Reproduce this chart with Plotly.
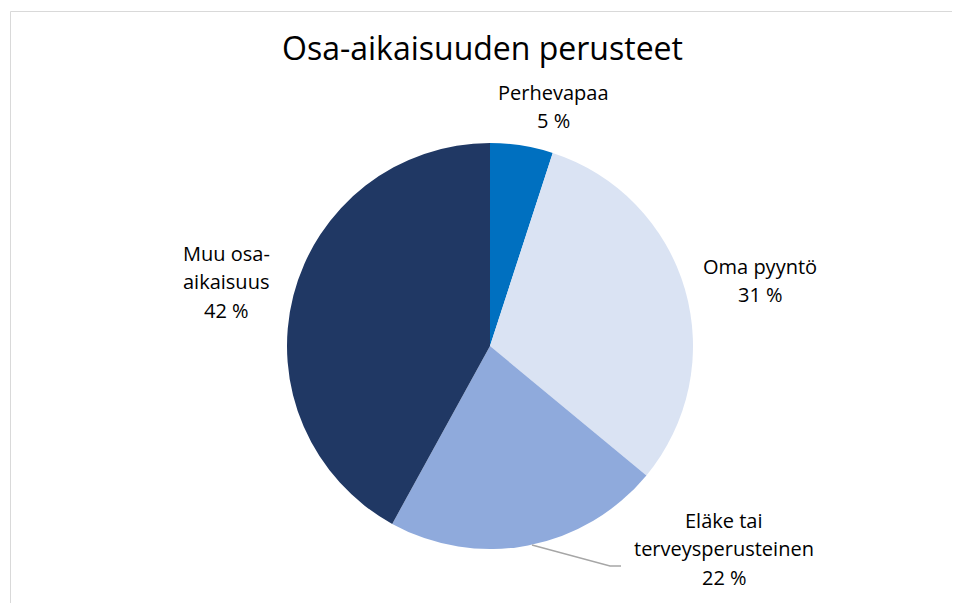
import plotly.graph_objects as go

# Data
title = "Osa-aikaisuuden perusteet"
labels = ["Perhevapaa", "Oma pyyntö", "Eläke tai terveysperusteinen", "Muu osa-aikaisuus"]
label_lines = [["Perhevapaa"], ["Oma pyyntö"], ["Eläke tai", "terveysperusteinen"], ["Muu osa-", "aikaisuus"]]
values = [5, 31, 22, 42]
colors = ["#0070C0", "#DAE3F3", "#8FAADC", "#203864"]

W, H = 960, 603
OFF = 8  # page body margin offset compensation


def fx(x):
    return (x - OFF) / W


def fy(y):
    return 1 - (y - OFF) / H


cx, cy, r = 490, 346, 203
FONT = "'Open Sans', Lato, sans-serif"

fig = go.Figure(go.Pie(
    labels=labels, values=values, sort=False, direction="clockwise", rotation=0,
    marker=dict(colors=colors, line=dict(width=0)),
    textinfo="none", hoverinfo="label+percent", showlegend=False,
    domain=dict(x=[fx(cx - r), fx(cx + r)], y=[fy(cy + r), fy(cy - r)]),
))

# label layout: (centre x, first line centre y) in pixels, line spacing
label_pos = [(553, 92), (760, 266), (724, 520), (226, 253)]
LS = 28.7
annotations = []
for lines, v, (px, py) in zip(label_lines, values, label_pos):
    for i, t in enumerate(lines + [f"{v} %"]):
        annotations.append(dict(x=fx(px), y=fy(py + i * LS), xref="paper", yref="paper", text=t,
                                showarrow=False, xanchor="center", yanchor="middle",
                                font=dict(family=FONT, size=20, color="#000000")))
annotations.append(dict(x=fx(482.5), y=fy(47.5), xref="paper", yref="paper", text=title, showarrow=False,
                        xanchor="center", yanchor="middle",
                        font=dict(family=FONT, size=32, color="#000000")))

shapes = [
    dict(type="line", xref="paper", yref="paper", x0=fx(10.5), x1=fx(10.5), y0=fy(11.5), y1=fy(620),
         line=dict(color="#D9D9D9", width=1)),
    dict(type="line", xref="paper", yref="paper", x0=fx(10.5), x1=fx(980), y0=fy(11.5), y1=fy(11.5),
         line=dict(color="#D9D9D9", width=1)),
    dict(type="path", xref="paper", yref="paper",
         path=f"M {fx(532)} {fy(545)} L {fx(610)} {fy(566)} L {fx(621)} {fy(566)}",
         line=dict(color="#A6A6A6", width=1.3)),
]

fig.update_layout(width=W, height=H, margin=dict(l=0, r=0, t=0, b=0),
                  paper_bgcolor="white", plot_bgcolor="white",
                  annotations=annotations, shapes=shapes)
fig.write_html("out.html")
